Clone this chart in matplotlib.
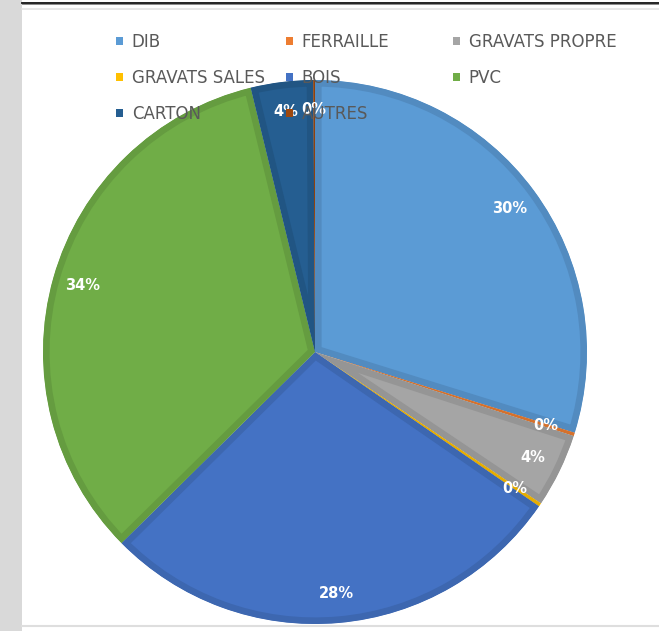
import matplotlib.pyplot as plt
import matplotlib.colors as mcolors
from matplotlib.lines import Line2D
from matplotlib.patches import Rectangle

W, H = 659, 631

categories = ['DIB', 'FERRAILLE', 'GRAVATS PROPRE', 'GRAVATS SALES',
              'BOIS', 'PVC', 'CARTON', 'AUTRES']
shares = [29.8, 0.2, 4.4, 0.2, 28.0, 33.6, 3.7, 0.1]
colors = ['#5B9BD5', '#ED7D31', '#A5A5A5', '#FFC000',
          '#4472C4', '#70AD47', '#255E91', '#9E480E']


def darker(c, f=0.9):
    r, g, b = mcolors.to_rgb(c)
    return (r * f, g * f, b * f)


fig = plt.figure(figsize=(W / 100, H / 100), dpi=100, facecolor='white')

# page decoration: grey strip left, rules top and bottom
fig.add_artist(Rectangle((0, 0), 22.5 / W, 1, transform=fig.transFigure,
                         facecolor='#d9d9d9', edgecolor='none', zorder=0))
fig.add_artist(Line2D([22.5 / W, 1], [1 - 2.6 / H] * 2, transform=fig.transFigure,
                      color='#111111', linewidth=1.3))
fig.add_artist(Line2D([22.5 / W, 1], [1 - 4.2 / H] * 2, transform=fig.transFigure,
                      color='#777777', linewidth=0.6))
fig.add_artist(Line2D([22.5 / W, 1], [1 - 8.8 / H] * 2, transform=fig.transFigure,
                      color='#e4e4e4', linewidth=1.2))
fig.add_artist(Line2D([22.5 / W, 1], [1 - 626 / H] * 2, transform=fig.transFigure,
                      color='#dedede', linewidth=1.5))

cx, cy, r = 315, 352, 272
ax = fig.add_axes([(cx - r) / W, (H - cy - r) / H, 2 * r / W, 2 * r / H])

wedges, texts, autotexts = ax.pie(
    shares, colors=colors, startangle=90, counterclock=False,
    autopct='%.0f%%', pctdistance=0.89, radius=1,
    textprops=dict(color='white', fontsize=10.5, fontweight='bold'))
# darker inner border per slice (edge clipped to the slice itself)
for w, c in zip(wedges, colors):
    w.set_edgecolor(darker(c))
    w.set_linewidth(9.5)
    w.set_clip_on(True)
    w.set_clip_path(w)
ax.set_xlim(-1, 1)
ax.set_ylim(-1, 1)

# legend: three columns, Excel row-major order
cols = [[0, 3, 6], [1, 4, 7], [2, 5]]
col_x = [116, 286, 453]
for idx, x in zip(cols, col_x):
    handles = [Rectangle((0, 0), 1, 1, facecolor=colors[i]) for i in idx]
    leg = fig.legend(handles, [categories[i] for i in idx], loc='upper left',
                     bbox_to_anchor=(x / W, 1 - 33 / H), frameon=False,
                     borderpad=0, borderaxespad=0, handlelength=0.42,
                     handleheight=0.42, handletextpad=0.52, labelspacing=1.08,
                     prop=dict(size=12), labelcolor='#595959')
    leg.set_zorder(10)

fig.savefig('out.png', dpi=100, facecolor='white')
